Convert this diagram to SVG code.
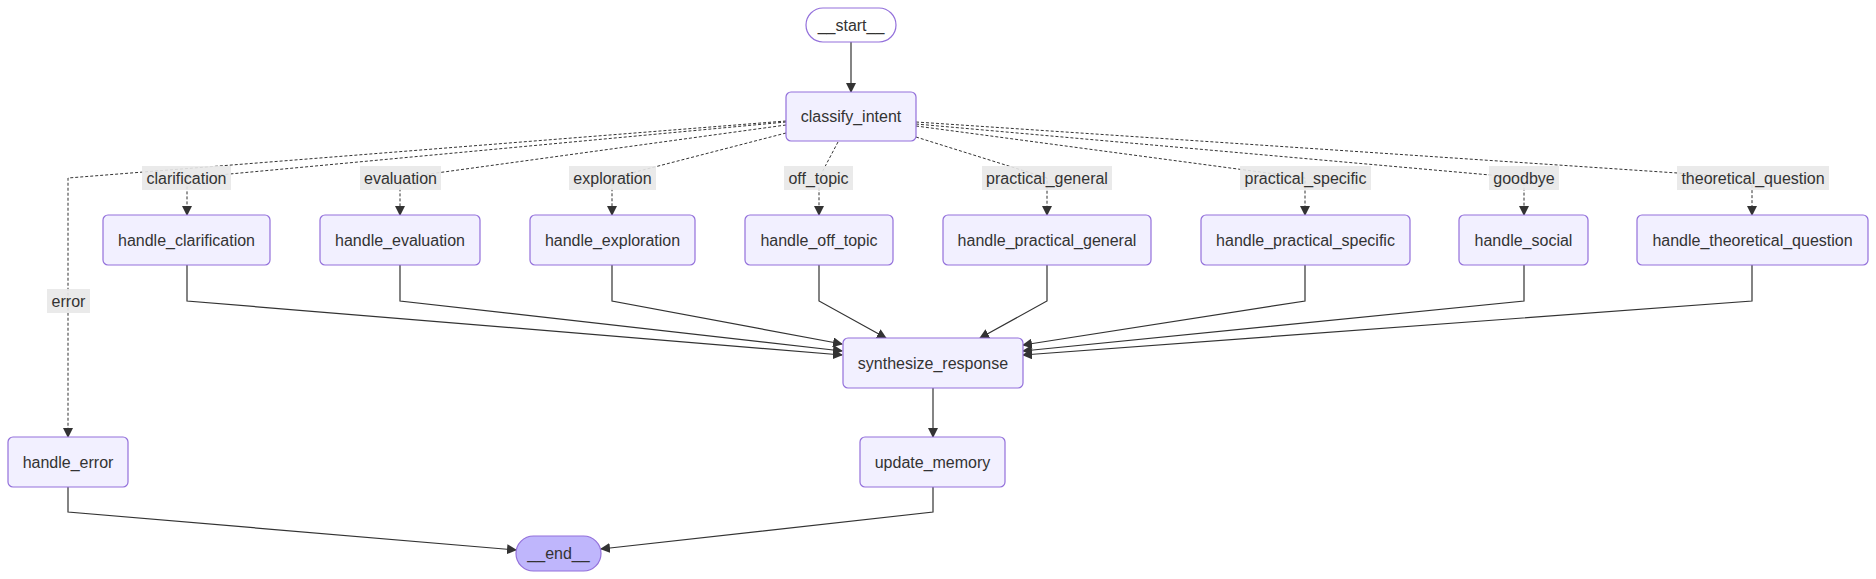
<svg xmlns="http://www.w3.org/2000/svg" width="1876" height="579" viewBox="0 0 1876 579">
<style>
.node rect{fill:#f2f0ff;stroke:#9370DB;stroke-width:1.2}
.node text,.lbl text{font-family:"Liberation Sans",Arial,sans-serif;font-size:16px;fill:#333;text-anchor:middle}
.first rect{fill:#ffffff}
.last rect{fill:#bfb6fc}
.e{fill:none;stroke:#333;stroke-width:1.2}
.d{fill:none;stroke:#333;stroke-width:1;stroke-dasharray:3 2}
.lbl rect{fill:#e8e8e8;opacity:0.9}
</style>
<defs>
<marker id="ah" viewBox="0 0 10 10" refX="9" refY="5" markerWidth="10" markerHeight="10" markerUnits="userSpaceOnUse" orient="auto">
<path d="M0,0 L10,5 L0,10 z" fill="#333"/>
</marker>
</defs>
<rect width="1876" height="579" fill="#fff"/>
<g id="edges">
<path class="e" d="M851,42 L851,92" marker-end="url(#ah)"/>
<path class="d" d="M786,121 L68,178 L68,437" marker-end="url(#ah)"/>
<path class="d" d="M786,122 L187,178 L187,215" marker-end="url(#ah)"/>
<path class="d" d="M786,125 L400,178 L400,215" marker-end="url(#ah)"/>
<path class="d" d="M786,133 L612,178 L612,215" marker-end="url(#ah)"/>
<path class="d" d="M838,142 L819,178 L819,215" marker-end="url(#ah)"/>
<path class="d" d="M916,137 L1047,178 L1047,215" marker-end="url(#ah)"/>
<path class="d" d="M916,126 L1305,178 L1305,215" marker-end="url(#ah)"/>
<path class="d" d="M916,124 L1524,178 L1524,215" marker-end="url(#ah)"/>
<path class="d" d="M916,122 L1752,178 L1752,215" marker-end="url(#ah)"/>
<path class="e" d="M187,265 L187,301 L842,355" marker-end="url(#ah)"/>
<path class="e" d="M400,265 L400,301 L842,351" marker-end="url(#ah)"/>
<path class="e" d="M612,265 L612,301 L842,344" marker-end="url(#ah)"/>
<path class="e" d="M819,265 L819,301 L886,338" marker-end="url(#ah)"/>
<path class="e" d="M1047,265 L1047,301 L980,338" marker-end="url(#ah)"/>
<path class="e" d="M1305,265 L1305,301 L1023,345" marker-end="url(#ah)"/>
<path class="e" d="M1524,265 L1524,301 L1023,351" marker-end="url(#ah)"/>
<path class="e" d="M1752,265 L1752,301 L1023,355" marker-end="url(#ah)"/>
<path class="e" d="M933,388 L933,437" marker-end="url(#ah)"/>
<path class="e" d="M68,487 L68,512 L516,550" marker-end="url(#ah)"/>
<path class="e" d="M933,487 L933,512 L601,549" marker-end="url(#ah)"/>
</g>
<g id="edge-labels">
<g class="lbl"><rect x="142" y="166" width="89" height="24"/><text x="186.5" y="183.5">clarification</text></g>
<g class="lbl"><rect x="360" y="166" width="81" height="24"/><text x="400.5" y="183.5">evaluation</text></g>
<g class="lbl"><rect x="569" y="166" width="87" height="24"/><text x="612.5" y="183.5">exploration</text></g>
<g class="lbl"><rect x="784" y="166" width="69" height="24"/><text x="818.5" y="183.5">off_topic</text></g>
<g class="lbl"><rect x="982" y="166" width="130" height="24"/><text x="1047" y="183.5">practical_general</text></g>
<g class="lbl"><rect x="1240" y="166" width="131" height="24"/><text x="1305.5" y="183.5">practical_specific</text></g>
<g class="lbl"><rect x="1489" y="166" width="70" height="24"/><text x="1524" y="183.5">goodbye</text></g>
<g class="lbl"><rect x="1677" y="166" width="152" height="24"/><text x="1753" y="183.5">theoretical_question</text></g>
<g class="lbl"><rect x="47" y="289" width="43" height="24"/><text x="68.5" y="306.5">error</text></g>
</g>
<g id="start" class="node first"><rect x="806" y="8" width="90" height="34" rx="17"/><text x="851" y="30.5">__start__</text></g>
<g id="classify_intent" class="node"><rect x="786" y="92" width="130" height="49" rx="5"/><text x="851" y="122">classify_intent</text></g>
<g id="handle_clarification" class="node"><rect x="103" y="215" width="167" height="50" rx="5"/><text x="186.5" y="245.5">handle_clarification</text></g>
<g id="handle_evaluation" class="node"><rect x="320" y="215" width="160" height="50" rx="5"/><text x="400" y="245.5">handle_evaluation</text></g>
<g id="handle_exploration" class="node"><rect x="530" y="215" width="165" height="50" rx="5"/><text x="612.5" y="245.5">handle_exploration</text></g>
<g id="handle_off_topic" class="node"><rect x="745" y="215" width="148" height="50" rx="5"/><text x="819" y="245.5">handle_off_topic</text></g>
<g id="handle_practical_general" class="node"><rect x="943" y="215" width="208" height="50" rx="5"/><text x="1047" y="245.5">handle_practical_general</text></g>
<g id="handle_practical_specific" class="node"><rect x="1201" y="215" width="209" height="50" rx="5"/><text x="1305.5" y="245.5">handle_practical_specific</text></g>
<g id="handle_social" class="node"><rect x="1459" y="215" width="129" height="50" rx="5"/><text x="1523.5" y="245.5">handle_social</text></g>
<g id="handle_theoretical_question" class="node"><rect x="1637" y="215" width="231" height="50" rx="5"/><text x="1752.5" y="245.5">handle_theoretical_question</text></g>
<g id="synthesize_response" class="node"><rect x="843" y="338" width="180" height="50" rx="5"/><text x="933" y="368.5">synthesize_response</text></g>
<g id="update_memory" class="node"><rect x="860" y="437" width="145" height="50" rx="5"/><text x="932.5" y="467.5">update_memory</text></g>
<g id="handle_error" class="node"><rect x="8" y="437" width="120" height="50" rx="5"/><text x="68" y="467.5">handle_error</text></g>
<g id="end" class="node last"><rect x="516" y="536" width="85" height="35" rx="17.5"/><text x="558.5" y="559">__end__</text></g>
</svg>
